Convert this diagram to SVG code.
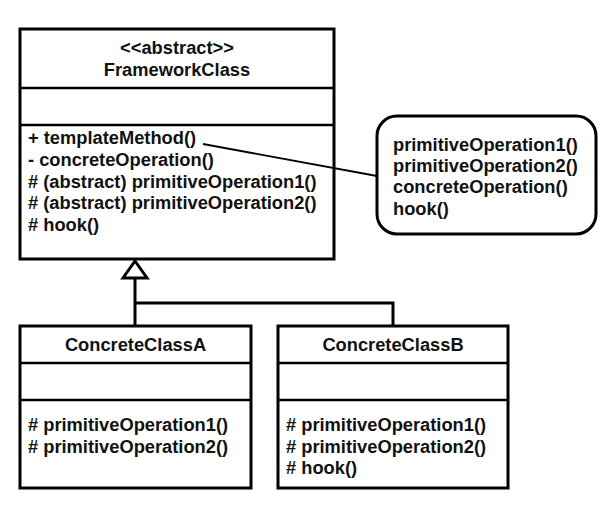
<svg xmlns="http://www.w3.org/2000/svg" width="602" height="505" viewBox="0 0 602 505">
<style>
.box{fill:#fff;stroke:#000;stroke-width:3}
.div{stroke:#000;stroke-width:2.5}
.t{font-family:"Liberation Sans",Arial,Helvetica,sans-serif;font-weight:bold;font-size:18.3px;fill:#111}
.c{text-anchor:middle}
.conn{fill:none;stroke:#000;stroke-width:3}
.head{fill:#fff;stroke:#000;stroke-width:3}
.link{fill:none;stroke:#000;stroke-width:1.8}
</style>
<rect width="602" height="505" fill="#fff"/>
<g id="FrameworkClass">
<rect class="box" x="20" y="29" width="314" height="230"/>
<line class="div" x1="20" y1="88" x2="334" y2="88"/>
<line class="div" x1="20" y1="125" x2="334" y2="125"/>
<text class="t c" x="177" y="54">&lt;&lt;abstract&gt;&gt;</text>
<text class="t c" x="177" y="75.5">FrameworkClass</text>
<text class="t" x="28" y="144">+ templateMethod()</text>
<text class="t" x="28" y="165.7">- concreteOperation()</text>
<text class="t" x="28" y="187.5"># (abstract) primitiveOperation1()</text>
<text class="t" x="28" y="209.2"># (abstract) primitiveOperation2()</text>
<text class="t" x="28" y="231"># hook()</text>
</g>
<g id="note">
<rect class="box" x="377" y="116" width="219" height="118" rx="20" ry="20"/>
<text class="t" x="393" y="151">primitiveOperation1()</text>
<text class="t" x="393" y="172">primitiveOperation2()</text>
<text class="t" x="393" y="193">concreteOperation()</text>
<text class="t" x="393" y="214.5">hook()</text>
</g>
<g id="ConcreteClassA">
<rect class="box" x="20" y="326" width="231" height="162"/>
<line class="div" x1="20" y1="363" x2="251" y2="363"/>
<line class="div" x1="20" y1="400" x2="251" y2="400"/>
<text class="t c" x="135.5" y="351">ConcreteClassA</text>
<text class="t" x="28" y="431"># primitiveOperation1()</text>
<text class="t" x="28" y="452.5"># primitiveOperation2()</text>
</g>
<g id="ConcreteClassB">
<rect class="box" x="278" y="326" width="230" height="162"/>
<line class="div" x1="278" y1="363" x2="508" y2="363"/>
<line class="div" x1="278" y1="400" x2="508" y2="400"/>
<text class="t c" x="393" y="351">ConcreteClassB</text>
<text class="t" x="286" y="431"># primitiveOperation1()</text>
<text class="t" x="286" y="452.5"># primitiveOperation2()</text>
<text class="t" x="286" y="474"># hook()</text>
</g>
<g id="connectors">
<path class="conn" d="M135 278 V326 M135 303 H393 V326"/>
<polygon class="head" points="135,261 147,278 123,278"/>
<path class="link" d="M203 144 L377 176"/>
</g>
</svg>
